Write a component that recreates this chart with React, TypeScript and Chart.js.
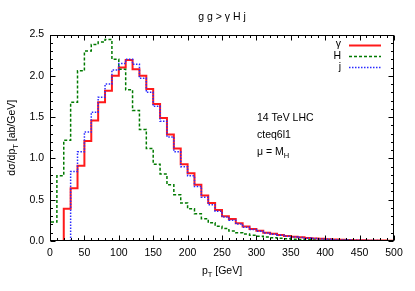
import { useEffect, useRef } from 'react';
import { Chart, registerables } from 'chart.js';

Chart.register(...registerables);

const BIN_WIDTH = 10;
const binStarts = [
  0, 10, 20, 30, 40, 50, 60, 70, 80, 90,
  100, 110, 120, 130, 140, 150, 160, 170, 180, 190,
  200, 210, 220, 230, 240, 250, 260, 270, 280, 290,
  300, 310, 320, 330, 340, 350, 360, 370, 380, 390,
  400, 410, 420, 430, 440, 450, 460, 470, 480, 490,
];
const gammaValues = [
  0, 0, 0.39, 0.64, 0.91, 1.21, 1.46, 1.68, 1.82, 2.0,
  2.1, 2.19, 2.08, 2.0, 1.84, 1.66, 1.49, 1.29, 1.12, 0.93,
  0.82, 0.68, 0.55, 0.46, 0.375, 0.3, 0.265, 0.215, 0.175, 0.145,
  0.125, 0.1, 0.088, 0.074, 0.062, 0.052, 0.044, 0.037, 0.031, 0.026,
  0.021, 0.018, 0.015, 0.012, 0.01, 0.008, 0.007, 0.006, 0.005, 0.004,
];
const higgsValues = [
  0.23, 0.79, 1.22, 1.68, 2.06, 2.3, 2.38, 2.41, 2.44, 2.2,
  2.08, 1.83, 1.58, 1.35, 1.12, 0.93, 0.81, 0.68, 0.56, 0.46,
  0.39, 0.33, 0.27, 0.22, 0.18, 0.15, 0.12, 0.1, 0.085, 0.07,
  0.058, 0.048, 0.04, 0.033, 0.027, 0.022, 0.018, 0.015, 0.012, 0.01,
  0.009, 0.007, 0.006, 0.005, 0.004, 0.003, 0.003, 0.002, 0.002, 0.001,
];
const jetValues = [
  0, 0, 0, 0.84, 1.08, 1.32, 1.56, 1.74, 1.9, 2.07,
  2.15, 2.2, 2.14, 1.97, 1.8, 1.63, 1.45, 1.26, 1.08, 0.9,
  0.79, 0.66, 0.53, 0.44, 0.36, 0.29, 0.25, 0.205, 0.165, 0.138,
  0.118, 0.096, 0.083, 0.07, 0.058, 0.049, 0.041, 0.034, 0.029, 0.024,
  0.02, 0.016, 0.013, 0.011, 0.009, 0.007, 0.006, 0.005, 0.004, 0.003,
];
const xTicks = [0, 50, 100, 150, 200, 250, 300, 350, 400, 450, 500];
const yTicks = [0, 0.5, 1.0, 1.5, 2.0, 2.5];
const xMinorStep = 10;
const yMinorStep = 0.1;

const FONT = '"Liberation Sans", Arial, Helvetica, sans-serif';

function toSteps(values: number[]) {
  const pts: { x: number; y: number }[] = [];
  let first = values.findIndex((v) => v > 0);
  if (first < 0) first = 0;
  pts.push({ x: binStarts[first], y: 0 });
  for (let i = first; i < values.length; i++) pts.push({ x: binStarts[i], y: values[i] });
  const last = values.length - 1;
  pts.push({ x: binStarts[last] + BIN_WIDTH, y: values[last] });
  return pts;
}

type Part = { t: string; sub?: boolean };

function richWidth(ctx: CanvasRenderingContext2D, parts: Part[], size: number, subSize: number) {
  let w = 0;
  for (const p of parts) {
    ctx.font = `${p.sub ? subSize : size}px ${FONT}`;
    w += ctx.measureText(p.t).width;
  }
  return w;
}

function drawRich(ctx: CanvasRenderingContext2D, parts: Part[], x: number, y: number, size: number, subSize: number, align: 'left' | 'center') {
  const w = richWidth(ctx, parts, size, subSize);
  let cx = align === 'center' ? x - w / 2 : x;
  ctx.textBaseline = 'middle';
  ctx.textAlign = 'left';
  for (const p of parts) {
    ctx.font = `${p.sub ? subSize : size}px ${FONT}`;
    ctx.fillText(p.t, cx, p.sub ? y + 3.5 : y);
    cx += ctx.measureText(p.t).width;
  }
}

const decorPlugin = {
  id: 'decor',
  afterDraw(chart: any) {
    const ctx: CanvasRenderingContext2D = chart.ctx;
    const { left, right, top, bottom } = chart.chartArea;
    const xs = chart.scales.x;
    const ys = chart.scales.y;
    ctx.save();
    ctx.strokeStyle = '#000';
    ctx.fillStyle = '#000';
    ctx.lineWidth = 1;
    const L = Math.round(left) + 0.5;
    const R = Math.round(right) - 0.5;
    const T = Math.round(top) + 0.5;
    const B = Math.round(bottom) - 0.5;
    ctx.strokeRect(L, T, R - L, B - T);
    ctx.beginPath();
    for (let v = xs.min; v <= xs.max + 1e-9; v += xMinorStep) {
      const px = Math.round(xs.getPixelForValue(v)) + 0.5;
      const major = xTicks.some((t) => Math.abs(t - v) < 1e-6);
      const len = major ? 5 : 2.5;
      ctx.moveTo(px, B);
      ctx.lineTo(px, B - len);
      ctx.moveTo(px, T);
      ctx.lineTo(px, T + len);
    }
    for (let i = 0; i <= Math.round((ys.max - ys.min) / yMinorStep); i++) {
      const v = ys.min + i * yMinorStep;
      const py = Math.round(ys.getPixelForValue(v)) + 0.5;
      const major = yTicks.some((t) => Math.abs(t - v) < 1e-6);
      const len = major ? 5 : 2.5;
      ctx.moveTo(L, py);
      ctx.lineTo(L + len, py);
      ctx.moveTo(R, py);
      ctx.lineTo(R - len, py);
    }
    ctx.stroke();

    drawRich(ctx, [{ t: 'g g > γ H j' }], (left + right) / 2, 17, 10.5, 7.5, 'center');
    drawRich(ctx, [{ t: 'p' }, { t: 'T', sub: true }, { t: ' [GeV]' }], (left + right) / 2, 271, 10.5, 7.5, 'center');
    ctx.save();
    ctx.translate(12, (top + bottom) / 2);
    ctx.rotate(-Math.PI / 2);
    drawRich(ctx, [{ t: 'dσ/dp' }, { t: 'T', sub: true }, { t: ' [ab/GeV]' }], 0, 0, 10.5, 7.5, 'center');
    ctx.restore();

    drawRich(ctx, [{ t: '14 TeV LHC' }], 257, 118, 10.5, 7.5, 'left');
    drawRich(ctx, [{ t: 'cteq6l1' }], 257, 135.5, 10.5, 7.5, 'left');
    drawRich(ctx, [{ t: 'μ = M' }, { t: 'H', sub: true }], 257, 152.5, 10.5, 7.5, 'left');

    const entries = chart.data.datasets
      .map((d: any) => d)
      .sort((a: any, b: any) => a.legendIndex - b.legendIndex);
    entries.forEach((d: any, i: number) => {
      const y = 44.5 + i * 11.3;
      ctx.font = `10.5px ${FONT}`;
      ctx.textAlign = 'right';
      ctx.textBaseline = 'middle';
      ctx.fillStyle = '#000';
      ctx.fillText(d.label, 341, y);
      ctx.beginPath();
      ctx.strokeStyle = d.borderColor;
      ctx.lineWidth = d.borderWidth;
      ctx.setLineDash(d.borderDash || []);
      ctx.moveTo(349, Math.round(y) + 0.5);
      ctx.lineTo(381, Math.round(y) + 0.5);
      ctx.stroke();
      ctx.setLineDash([]);
    });
    ctx.restore();
  },
};

export default function App() {
  const ref = useRef<HTMLCanvasElement>(null);
  useEffect(() => {
    document.body.style.margin = '0';
    const canvas = ref.current!;
    const chart = new Chart(canvas, {
      type: 'line',
      data: {
        datasets: [
          {
            label: 'j',
            legendIndex: 2,
            data: toSteps(jetValues),
            borderColor: '#2a2aff',
            borderWidth: 1.5,
            borderDash: [1.5, 1.5],
            stepped: true,
            pointRadius: 0,
            fill: false,
            order: 0,
          } as any,
          {
            label: 'H',
            legendIndex: 1,
            data: toSteps(higgsValues),
            borderColor: '#007a00',
            borderWidth: 1.5,
            borderDash: [3, 2],
            stepped: true,
            pointRadius: 0,
            fill: false,
            order: 1,
          } as any,
          {
            label: 'γ',
            legendIndex: 0,
            data: toSteps(gammaValues),
            borderColor: '#ff1a1a',
            borderWidth: 2,
            stepped: true,
            pointRadius: 0,
            fill: false,
            order: 2,
          } as any,
        ],
      },
      options: {
        animation: false,
        responsive: false,
        layout: { padding: { left: 0, right: 21, top: 34.5, bottom: 0 } },
        plugins: { legend: { display: false }, tooltip: { enabled: false }, title: { display: false } },
        scales: {
          x: {
            type: 'linear',
            min: 0,
            max: 500,
            grid: { display: false, drawTicks: false, tickLength: 0 },
            border: { display: false },
            afterBuildTicks: (s: any) => {
              s.ticks = xTicks.map((v) => ({ value: v }));
            },
            afterFit: (s: any) => {
              s.height = 50;
            },
            ticks: {
              autoSkip: false,
              maxRotation: 0,
              padding: 6,
              color: '#000',
              font: { family: FONT, size: 10.5 },
              callback: (v: any) => String(v),
            },
          },
          y: {
            type: 'linear',
            min: 0,
            max: 2.5,
            grid: { display: false, drawTicks: false, tickLength: 0 },
            border: { display: false },
            afterBuildTicks: (s: any) => {
              s.ticks = yTicks.map((v) => ({ value: v }));
            },
            afterFit: (s: any) => {
              s.width = 50;
            },
            ticks: {
              autoSkip: false,
              padding: 6,
              color: '#000',
              font: { family: FONT, size: 10.5 },
              callback: (v: any) => Number(v).toFixed(1),
            },
          },
        },
      },
      plugins: [decorPlugin],
    });
    return () => chart.destroy();
  }, []);
  return <canvas ref={ref} width={415} height={291} style={{ display: 'block' }} />;
}
